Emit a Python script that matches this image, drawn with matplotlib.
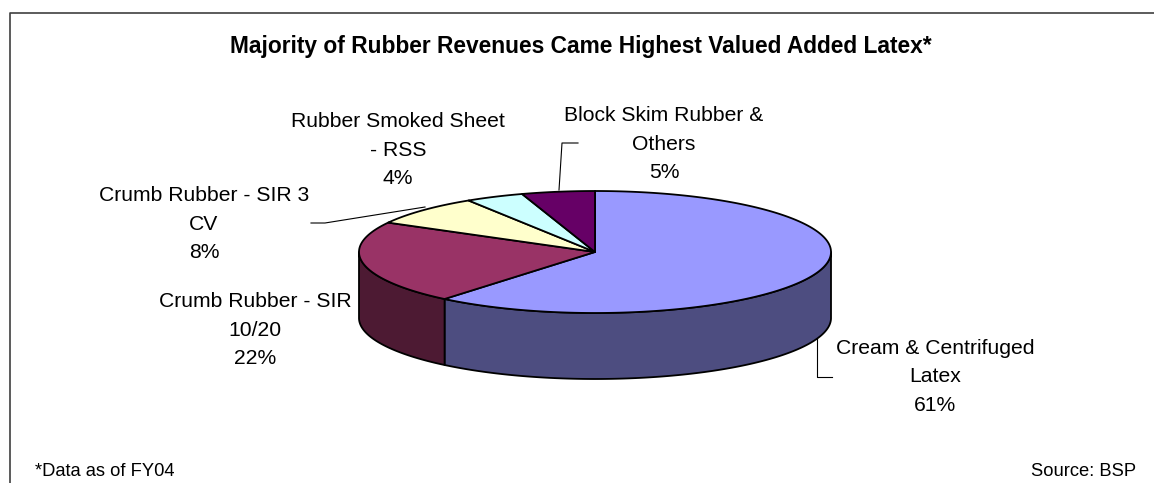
import numpy as np
import matplotlib
matplotlib.use('Agg')
import matplotlib.pyplot as plt
from matplotlib.patches import Polygon

plt.rcParams['font.family'] = ['Liberation Sans', 'DejaVu Sans']

labels = ['Cream & Centrifuged\nLatex', 'Crumb Rubber - SIR\n10/20', 'Crumb Rubber - SIR 3\nCV',
          'Rubber Smoked Sheet\n- RSS', 'Block Skim Rubber &\nOthers']
values = [61, 22, 8, 4, 5]
top_colors = ['#9999FF', '#993366', '#FFFFCC', '#CCFFFF', '#660066']
wall_colors = ['#4D4D80', '#4D1A33', '#808066', '#668080', '#330033']
label_pos = [(935, 377), (255, 330), (204, 224), (398, 150), (664, 144)]
title = 'Majority of Rubber Revenues Came Highest Valued Added Latex*'

# pie geometry in pixels
cx, cy = 595, 252
rx, ry = 236, 61
depth = 66


def rim(a0, a1, dy=0.0):
    # points on the ellipse, angles clockwise from 12 o'clock
    t = np.radians(np.linspace(a0, a1, max(int(abs(a1 - a0) * 2), 2)))
    return np.column_stack([cx + rx * np.sin(t), cy - ry * np.cos(t) + dy])


fig = plt.figure(figsize=(11.54, 4.83), dpi=100)
ax = fig.add_axes([0, 0, 1, 1])
ax.set_xlim(0, 1154)
ax.set_ylim(483, 0)
ax.axis('off')

# frame around the chart, bottom edge falls outside the image
ax.plot([10, 10, 1153.5], [483, 13, 13], color='#404040', lw=1.2)

edges = np.cumsum([0] + values) * 3.6

# side walls, only the front half of the rim shows
for i in range(len(values)):
    a0 = max(edges[i], 90)
    a1 = min(edges[i + 1], 270)
    if a1 <= a0:
        continue
    upper = rim(a0, a1)
    lower = rim(a0, a1, depth)[::-1]
    ax.add_patch(Polygon(np.vstack([upper, lower]), closed=True, facecolor=wall_colors[i],
                         edgecolor='black', lw=1.3, joinstyle='round', zorder=2))

# top face
for i in range(len(values)):
    pts = np.vstack([[cx, cy], rim(edges[i], edges[i + 1])])
    ax.add_patch(Polygon(pts, closed=True, facecolor=top_colors[i], edgecolor='black',
                         lw=1.3, joinstyle='round', zorder=3))

# leader lines
ax.plot([817, 817, 832], [331, 377, 377], color='black', lw=0.8, zorder=1)
ax.plot([311, 325, 425], [223, 223, 207], color='black', lw=0.8, zorder=1)
ax.plot([559, 562, 578], [190, 143, 143], color='black', lw=0.8, zorder=1)

for name, val, (x, y) in zip(labels, values, label_pos):
    # y is the middle of the three text lines
    ax.text(x, y, f'{name}\n{val}%', ha='center', va='center', fontsize=15.2,
            linespacing=1.64, color='black')

ax.text(581, 46, title, ha='center', va='center', fontsize=16.4, fontweight='bold', color='black')
ax.text(35, 471, '*Data as of FY04', ha='left', va='center', fontsize=13.2, color='black')
ax.text(1136, 471, 'Source: BSP', ha='right', va='center', fontsize=13.2, color='black')

fig.savefig('out.png', dpi=100)
